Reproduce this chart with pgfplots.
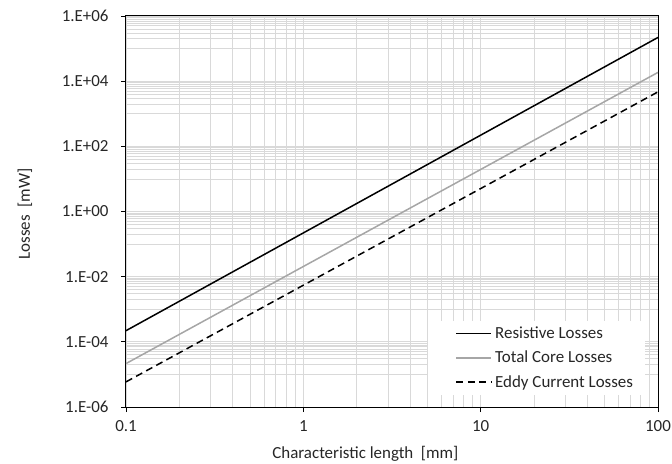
\documentclass[border=0pt]{standalone}
\usepackage{fontspec}
\setmainfont{Carlito}
\usepackage{pgfplots}
\pgfplotsset{compat=1.18}

\definecolor{gridgray}{HTML}{D9D9D9}
\definecolor{coregray}{HTML}{A6A6A6}
\definecolor{textgray}{HTML}{262626}

\begin{document}
\begin{tikzpicture}
\useasboundingbox (0,0) rectangle (672bp,464bp);
\begin{axis}[
  at={(126bp,57bp)}, anchor=south west,
  scale only axis,
  width=532bp, height=391bp,
  xmode=log, ymode=log,
  xmin=0.1, xmax=100,
  ymin=1e-6, ymax=1e6,
  font=\fontsize{17}{20}\selectfont,
  every tick label/.append style={text=textgray},
  xticklabel style={yshift=-5bp},
  yticklabel style={xshift=-9bp},
  xtick={0.1,1,10,100},
  xticklabels={0.1,1,10,100},
  ytick={1e-6,1e-4,1e-2,1,1e2,1e4,1e6},
  yticklabels={1.E-06,1.E-04,1.E-02,1.E+00,1.E+02,1.E+04,1.E+06},
  minor xtick={0.2,0.3,0.4,0.5,0.6,0.7,0.8,0.9,
               2,3,4,5,6,7,8,9,
               20,30,40,50,60,70,80,90},
  minor ytick={1e-5,2e-5,3e-5,4e-5,5e-5,6e-5,7e-5,8e-5,9e-5,
               1e-3,2e-3,3e-3,4e-3,5e-3,6e-3,7e-3,8e-3,9e-3,
               0.1,0.2,0.3,0.4,0.5,0.6,0.7,0.8,0.9,
               10,20,30,40,50,60,70,80,90,
               1e3,2e3,3e3,4e3,5e3,6e3,7e3,8e3,9e3,
               1e5,2e5,3e5,4e5,5e5,6e5,7e5,8e5,9e5},
  grid=both,
  major grid style={gridgray, line width=0.8bp},
  minor grid style={gridgray, line width=0.8bp},
  tick align=outside,
  major tick length=5bp,
  minor tick length=0pt,
  xtick pos=bottom, ytick pos=left,
  tick style={black, line width=0.9bp},
  axis line style={black, line width=1bp},
  xlabel={Characteristic length\ \ [mm]},
  ylabel={Losses\ \ [mW]},
  every axis x label/.style={at={(axis description cs:0.450,-0.1312)}, anchor=base, text=textgray},
  every axis y label/.style={at={(axis description cs:-0.1805,0.4936)}, anchor=base, rotate=90, text=textgray},
  legend style={at={(axis description cs:0.976,0.031)}, anchor=south east,
                draw=none, fill=white, inner xsep=11bp, inner ysep=5bp,
                font=\fontsize{17}{20}\selectfont, text=textgray,
                row sep=9bp,
                nodes={inner sep=1bp}},
  legend cell align=left,
  legend image code/.code={\path (-17bp,0bp) (37bp,0bp); \draw[#1] (0bp,0bp) -- (35bp,0bp);},
]
\addplot[black, line width=1.5bp] coordinates {
  (0.1,2.2e-4) (1,0.22) (10,220) (100,2.2e5)};
\addlegendentry{Resistive Losses}
\addplot[coregray, line width=1.5bp] coordinates {
  (0.1,2.15e-5) (1,0.0205) (10,19.5) (100,1.86e4)};
\addlegendentry{Total Core Losses}
\addplot[black, line width=1.5bp, dash pattern=on 7bp off 4.5bp] coordinates {
  (0.1,5.9e-6) (1,5.46e-3) (10,5.06) (100,4.7e3)};
\addlegendentry{Eddy Current Losses}
\end{axis}
\end{tikzpicture}
\end{document}
